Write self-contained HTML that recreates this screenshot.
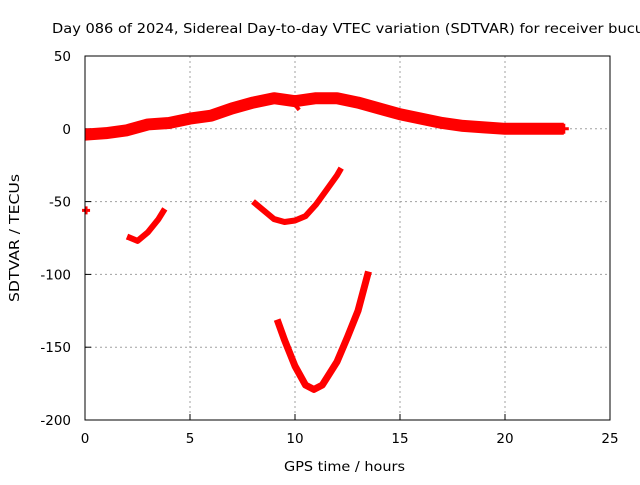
<!DOCTYPE html>
<html><head><meta charset="utf-8"><style>
body{margin:0;background:#fff;}
svg text{font-family:"DejaVu Sans","Liberation Sans",sans-serif;font-size:13.5px;fill:#000;}
</style></head><body>
<svg id="chart" width="640" height="480" xmlns="http://www.w3.org/2000/svg">
<rect x="0" y="0" width="640" height="480" fill="#fff"/>
<text x="52" y="33" textLength="592" lengthAdjust="spacingAndGlyphs">Day 086 of 2024, Sidereal Day-to-day VTEC variation (SDTVAR) for receiver bucu</text>
<text x="284" y="471" textLength="121" lengthAdjust="spacingAndGlyphs">GPS time / hours</text>
<text transform="translate(19,302) rotate(-90)" textLength="128" lengthAdjust="spacingAndGlyphs">SDTVAR / TECUs</text>
<g id="grid"></g><g id="series"></g>
<rect x="85" y="56" width="525" height="364" fill="none" stroke="#000" stroke-width="1"/>
</svg>
<script>
const xTicks=[0,5,10,15,20,25];
const yTicks=[50,0,-50,-100,-150,-200];
const mainX=[0,1,2,3,4,5,6,7,8,9,10,11,12,13,14,15,16,17,18,19,20,21,22,22.8];
const mainY=[-4,-3,-1,3,4,7,9,14,18,21,19,21,21,18,14,10,7,4,2,1,0,0,0,0];
const arc1X=[2.0,2.5,3.0,3.5,3.8];
const arc1Y=[-74,-77,-71,-62,-55];
const arc2X=[8.0,8.5,9.0,9.5,10.0,10.5,11.0,11.5,12.0,12.2];
const arc2Y=[-50,-56,-62,-64,-63,-60,-52,-42,-32,-27];
const arc3X=[9.15,9.5,10.0,10.5,10.9,11.3,12.0,12.5,13.0,13.5];
const arc3Y=[-131,-145,-163,-176,-179,-176,-160,-143,-125,-98];
const spikeX=[9.8,10.2];
const spikeY=[20,13];
const dotX=[0.05];
const dotY=[-56];
const NS="http://www.w3.org/2000/svg";
const sx=v=>85+v*21, sy=v=>56+(50-v)*364/250;
const grid=document.getElementById('grid'), ser=document.getElementById('series');
function mk(t,a,p){const e=document.createElementNS(NS,t);for(const k in a)e.setAttribute(k,a[k]);p.appendChild(e);return e;}
xTicks.forEach(t=>{
 if(t>0&&t<25){const l=mk('line',{x1:sx(t),x2:sx(t),y1:56,y2:420,stroke:'#a0a0a0','stroke-dasharray':'2,3'},grid);
 
 }
 const k=mk('line',{x1:sx(t),x2:sx(t),y1:420,y2:414,stroke:'#000'},grid);
 
 
 const tx=mk('text',{x:sx(t),y:443,'text-anchor':'middle'},grid);tx.textContent=t;
 
 
});
yTicks.forEach(t=>{
 if(t<50&&t>-200){const l=mk('line',{x1:85,x2:610,y1:sy(t),y2:sy(t),stroke:'#a0a0a0','stroke-dasharray':'2,3'},grid);
 
 }
 const k=mk('line',{x1:85,x2:91,y1:sy(t),y2:sy(t),stroke:'#000'},grid);
 
 
 const tx=mk('text',{x:71,y:sy(t)+5,'text-anchor':'end'},grid);tx.textContent=t;
 
 
});
function line(xs,ys,w,name){
 const p=mk('polyline',{points:xs.map((x,i)=>sx(x)+','+sy(ys[i])).join(' '),fill:'none',stroke:'#f00','stroke-width':w,'stroke-linejoin':'round','stroke-linecap':'butt'},ser);
 
 
}
line(mainX,mainY,12,'main-sdtvar-band');
line(spikeX,spikeY,4,'band-spike');
line(arc1X,arc1Y,6,'arc-series-1');
line(arc2X,arc2Y,6,'arc-series-2');
line(arc3X,arc3Y,7,'arc-series-3');
const ex=sx(mainX[mainX.length-1]), ey=sy(mainY[mainY.length-1]);
const plus=mk('path',{d:`M${ex-5},${ey}h10M${ex},${ey-5}v10`,stroke:'#f00','stroke-width':3},ser);


dotX.forEach((x,i)=>{
 const c=mk('path',{d:`M${sx(x)-4},${sy(dotY[i])}h8M${sx(x)},${sy(dotY[i])-4}v8`,stroke:'#f00','stroke-width':3},ser);
 
 
});
</script>
</body></html>
